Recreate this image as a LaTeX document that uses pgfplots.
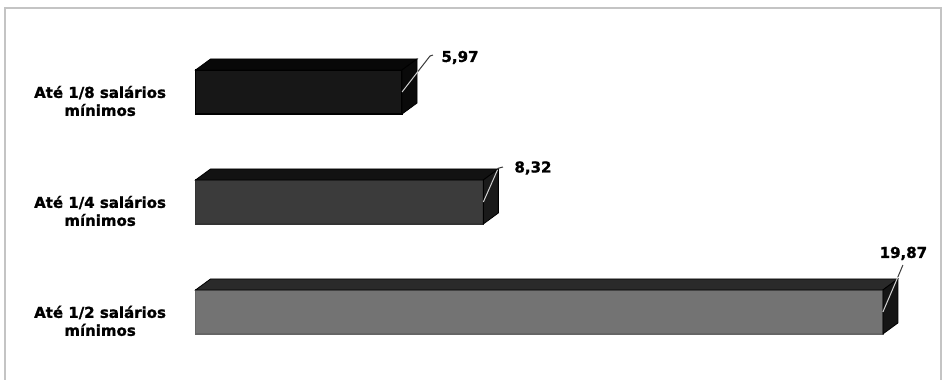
\documentclass[border=0pt]{standalone}
\usepackage{pgfplots}
\pgfplotsset{compat=1.18}
\usepackage{fontspec}
\setmainfont{DejaVu Sans}[BoldFeatures={FakeBold=1.3}]
\definecolor{frameg}{HTML}{C4C4C4}
\definecolor{fone}{HTML}{171717}
\definecolor{tone}{HTML}{080808}
\definecolor{sone}{HTML}{0A0A0A}
\definecolor{ftwo}{HTML}{3B3B3B}
\definecolor{ttwo}{HTML}{121212}
\definecolor{stwo}{HTML}{1A1A1A}
\definecolor{fthree}{HTML}{737373}
\definecolor{tthree}{HTML}{2A2A2A}
\definecolor{sthree}{HTML}{151515}
\definecolor{leadlight}{HTML}{D0D0D0}
\definecolor{leaddark}{HTML}{3A3A3A}
\begin{document}
\begin{tikzpicture}
\begin{axis}[
  scale only axis,
  width=942bp, height=380bp,
  xmin=-5.650, xmax=21.575,
  ymin=-0.8364, ymax=2.6182,
  y dir=reverse,
  clip=false,
  axis line style={draw=none},
  xtick=\empty,
  ytick={0,1,2},
  major tick length=0pt,
  yticklabels={Até 1/8 salários\\mínimos, Até 1/4 salários\\mínimos, Até 1/2 salários\\mínimos},
  yticklabel style={anchor=center, xshift=100bp, yshift=-9bp, align=center,
    font=\fontsize{15bp}{18bp}\selectfont\bfseries},
]
% frame
\draw[frameg, line width=1.6bp] (axis cs:-5.506,2.6182) -- (axis cs:-5.506,-0.7636) -- (axis cs:21.546,-0.7636) -- (axis cs:21.546,2.6182);

% front faces
\addplot[xbar, bar shift=0pt, bar width=0.4, fill=fone, draw=black, line width=1.4bp, forget plot] coordinates {(5.97,0)};
\addplot[xbar, bar shift=0pt, bar width=0.4, fill=ftwo, draw=black!80, line width=1.4bp, forget plot] coordinates {(8.32,1)};
\addplot[xbar, bar shift=0pt, bar width=0.4, fill=fthree, draw=black!60, line width=1.4bp, forget plot] coordinates {(19.87,2)};

% top faces
\addplot[fill=tone, draw=black, line width=0.8bp, no marks, forget plot] coordinates {(0,-0.2) (0.434,-0.3) (6.404,-0.3) (5.97,-0.2)} -- cycle;
\addplot[fill=ttwo, draw=black, line width=0.8bp, no marks, forget plot] coordinates {(0,0.8) (0.434,0.7) (8.754,0.7) (8.32,0.8)} -- cycle;
\addplot[fill=tthree, draw=black, line width=0.8bp, no marks, forget plot] coordinates {(0,1.8) (0.434,1.7) (20.304,1.7) (19.87,1.8)} -- cycle;

% side faces
\addplot[fill=sone, draw=black, line width=0.8bp, no marks, forget plot] coordinates {(5.97,-0.2) (6.404,-0.3) (6.404,0.1) (5.97,0.2)} -- cycle;
\addplot[fill=stwo, draw=black, line width=0.8bp, no marks, forget plot] coordinates {(8.32,0.8) (8.754,0.7) (8.754,1.1) (8.32,1.2)} -- cycle;
\addplot[fill=sthree, draw=black, line width=0.8bp, no marks, forget plot] coordinates {(19.87,1.8) (20.304,1.7) (20.304,2.1) (19.87,2.2)} -- cycle;

% leader lines
\draw[leadlight, line width=1bp] (axis cs:5.97,0) -- (axis cs:6.431,-0.187);
\draw[leaddark, line width=1bp] (axis cs:6.431,-0.187) -- (axis cs:6.777,-0.327) -- (axis cs:6.864,-0.336);
\draw[leadlight, line width=1bp] (axis cs:8.32,1) -- (axis cs:8.728,0.709);
\draw[leaddark, line width=1bp] (axis cs:8.728,0.709) -- (axis cs:8.743,0.694) -- (axis cs:8.887,0.682);
\draw[leadlight, line width=1bp] (axis cs:19.87,2) -- (axis cs:20.303,1.682);
\draw[leaddark, line width=1bp] (axis cs:20.303,1.682) -- (axis cs:20.448,1.573);

% value labels
\node[font=\fontsize{15bp}{18bp}\selectfont\bfseries, inner sep=0pt] at (axis cs:7.645,-0.314) {5,97};
\node[font=\fontsize{15bp}{18bp}\selectfont\bfseries, inner sep=0pt] at (axis cs:9.754,0.691) {8,32};
\node[font=\fontsize{15bp}{18bp}\selectfont\bfseries, inner sep=0pt] at (axis cs:20.462,1.468) {19,87};
\end{axis}
\end{tikzpicture}
\end{document}
